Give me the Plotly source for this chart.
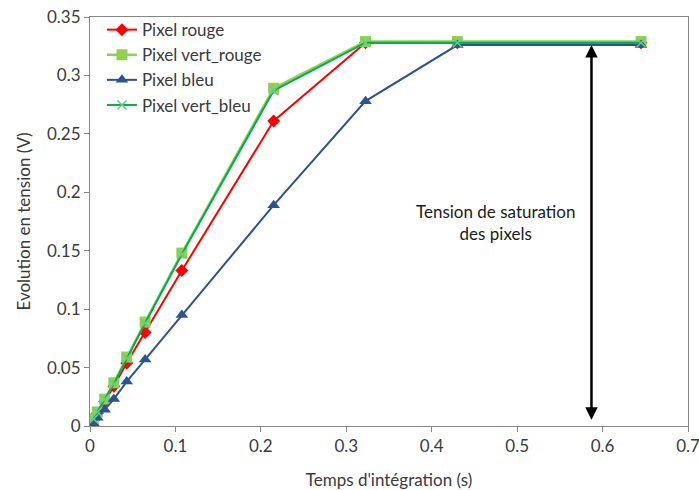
import plotly.graph_objects as go

# Integration times (s)
temps = [0.0043, 0.0086, 0.0172, 0.0279, 0.043, 0.0645, 0.1075, 0.215, 0.3225, 0.43, 0.645]

# Voltage response (V) per pixel type
pixel_rouge = [0.005, 0.011, 0.021, 0.034, 0.054, 0.080, 0.133, 0.261, 0.328, 0.328, 0.328]
pixel_vert_rouge = [0.006, 0.012, 0.023, 0.037, 0.059, 0.089, 0.148, 0.289, 0.329, 0.329, 0.329]
pixel_bleu = [0.002, 0.007, 0.014, 0.023, 0.038, 0.057, 0.095, 0.189, 0.278, 0.326, 0.326]
pixel_vert_bleu = [0.006, 0.012, 0.023, 0.036, 0.058, 0.088, 0.147, 0.287, 0.328, 0.328, 0.328]

x_ticks = [0, 0.1, 0.2, 0.3, 0.4, 0.5, 0.6, 0.7]
y_ticks = [0, 0.05, 0.1, 0.15, 0.2, 0.25, 0.3, 0.35]

# Saturation arrow position and label
arrow_x = 0.587
arrow_top = 0.326
arrow_bottom = 0.004
label_text = "Tension de saturation<br>des pixels"

FONT = "Lato"
TEXT = "#3a3a3a"

fig = go.Figure()
fig.add_trace(go.Scatter(
    x=temps, y=pixel_rouge, name="Pixel rouge", mode="lines+markers",
    line=dict(color="#FF0000", width=2),
    marker=dict(symbol="diamond", size=10, color="#FF0000"),
))
fig.add_trace(go.Scatter(
    x=temps, y=pixel_vert_rouge, name="Pixel vert_rouge", mode="lines+markers",
    line=dict(color="#92D050", width=2.5),
    marker=dict(symbol="square", size=11, color="#92D050"),
))
fig.add_trace(go.Scatter(
    x=temps, y=pixel_bleu, name="Pixel bleu", mode="lines+markers",
    line=dict(color="#2A5491", width=2),
    marker=dict(symbol="triangle-up", size=11, color="#2A5491"),
))
fig.add_trace(go.Scatter(
    x=temps, y=pixel_vert_bleu, name="Pixel vert_bleu", mode="lines+markers",
    line=dict(color="#00B050", width=2),
    marker=dict(symbol="x-thin", size=9, color="#7FDFA0",
                line=dict(color="#66CC88", width=1.5)),
))

# Double-headed arrow marking the saturation voltage
fig.add_annotation(
    x=arrow_x, y=arrow_top, ax=arrow_x, ay=arrow_bottom,
    xref="x", yref="y", axref="x", ayref="y",
    showarrow=True, arrowhead=2, arrowsize=1, arrowwidth=2.5,
    arrowside="end+start", arrowcolor="#000000", text="",
)
fig.add_annotation(
    x=0.475, y=0.174, xref="x", yref="y", text=label_text,
    showarrow=False, font=dict(family=FONT, size=17, color="#1a1a1a"),
    align="center",
)

axis_common = dict(
    showgrid=False, zeroline=False, showline=True, linecolor="#868686",
    linewidth=1, mirror=True, ticks="outside", ticklen=5, tickcolor="#868686",
    tickfont=dict(family=FONT, size=17, color=TEXT), automargin=False,
    ticklabeloverflow="allow",
)

fig.update_layout(
    width=699, height=490,
    margin=dict(l=90, r=11, t=17, b=64),
    paper_bgcolor="white", plot_bgcolor="white",
    font=dict(family=FONT, size=16, color=TEXT),
    xaxis=dict(range=[0, 0.7], tickvals=x_ticks, ticktext=[f"{v:g}" for v in x_ticks],
               title=dict(text="Temps d'intégration (s)", font=dict(family=FONT, size=17, color=TEXT), standoff=20),
               **axis_common),
    yaxis=dict(range=[0, 0.35], tickvals=y_ticks, ticktext=[f"{v:g}" for v in y_ticks],
               title=dict(text="Evolution en tension (V)", font=dict(family=FONT, size=17, color=TEXT), standoff=12),
               **axis_common),
    legend=dict(x=0.02, y=1.012, xanchor="left", yanchor="top",
                bgcolor="rgba(0,0,0,0)", font=dict(family=FONT, size=17, color=TEXT),
                tracegroupgap=0),
    showlegend=True,
)

fig.write_html("out.html")
